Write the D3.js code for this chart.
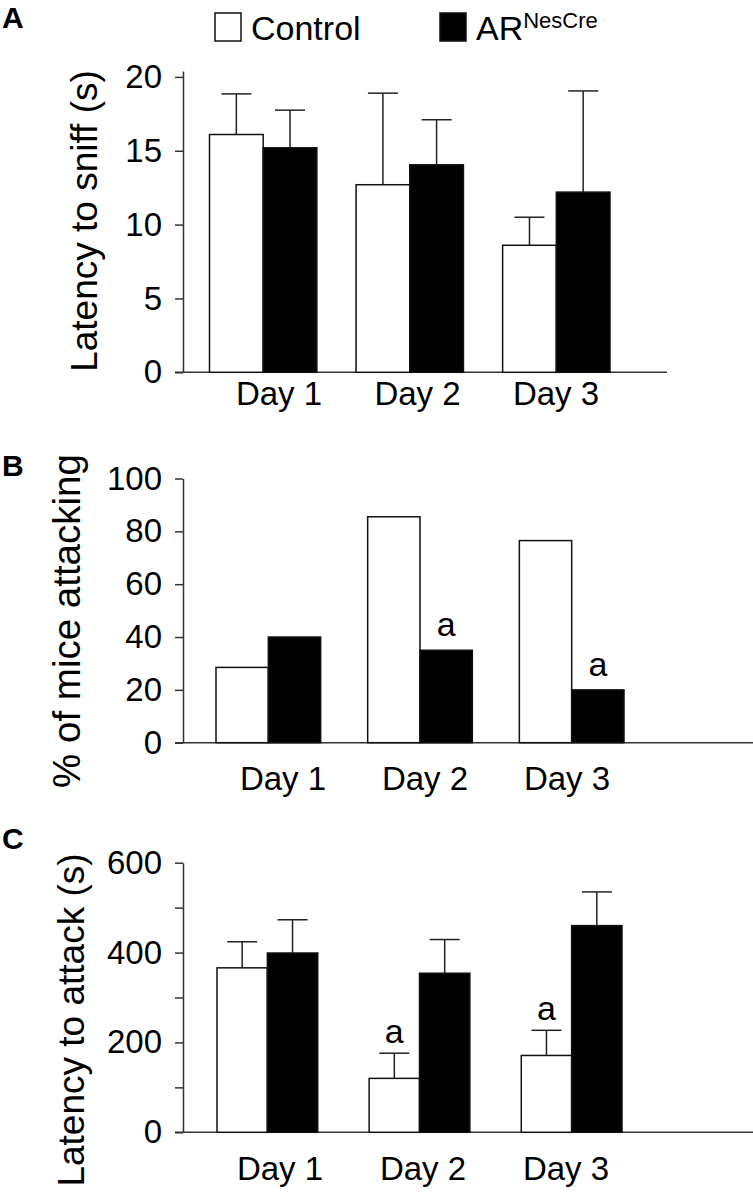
<!DOCTYPE html>
<html>
<head>
<meta charset="utf-8">
<script src="https://cdn.jsdelivr.net/npm/d3@7"></script>
<style>
  html, body { margin: 0; padding: 0; background: #fff; }
  svg { display: block; }
  text { font-family: "Liberation Sans", Arial, sans-serif; fill: #000; }
</style>
</head>
<body>
<svg id="chart" width="753" height="1199"></svg>
<script>
// ---------------- DATA ----------------
const days = ["Day 1", "Day 2", "Day 3"];
const groups = ["Control", "AR"];

// Panel A: latency to sniff (s)
const sniffControl = [16.1, 12.7, 8.6];
const sniffControlErr = [2.75, 6.2, 1.9];
const sniffAR = [15.2, 14.05, 12.2];
const sniffARErr = [2.55, 3.05, 6.85];
const sniffTicks = [0, 5, 10, 15, 20];

// Panel B: % of mice attacking
const pctControl = [28.5, 85.5, 76.5];
const pctAR = [40, 35, 20];
const pctARSig = ["", "a", "a"];
const pctTicks = [0, 20, 40, 60, 80, 100];

// Panel C: latency to attack (s)
const attackControl = [366, 120, 171];
const attackControlErr = [58, 56, 56];
const attackAR = [399, 354, 460];
const attackARErr = [74, 75, 75];
const attackControlSig = ["", "a", "a"];
const attackTicks = [0, 100, 200, 300, 400, 500, 600];
const attackTickLabels = ["0", "", "200", "", "400", "", "600"];

// ---------------- DRAW ----------------
const svg = d3.select("#chart");
const AXIS = "#333";

function drawPanel(cfg) {
  const g = svg.append("g");
  const y = d3.scaleLinear().domain(cfg.domain).range([cfg.yBase, cfg.yTop]);
  const x0 = d3.scaleBand().domain(days).range(cfg.xRange).paddingInner(cfg.pad);
  const x1 = d3.scaleBand().domain(groups).range([0, x0.bandwidth()]);
  const xl = d3.scalePoint().domain(days).range(cfg.labelRange);

  // y axis
  const ax = g.append("g")
    .attr("transform", `translate(${cfg.axisX},0)`)
    .call(d3.axisLeft(y).tickValues(cfg.ticks).tickSize(8).tickSizeOuter(0).tickPadding(13)
      .tickFormat((d, i) => cfg.tickLabels ? cfg.tickLabels[i] : d));
  ax.select(".domain").attr("stroke", AXIS).attr("stroke-width", 1.5);
  ax.selectAll(".tick line").attr("stroke", AXIS).attr("stroke-width", 1.5);
  ax.selectAll(".tick text").style("font-size", "33px").attr("fill", "#000")
    .style("font-family", '"Liberation Sans", Arial, sans-serif');

  // x baseline
  g.append("line")
    .attr("x1", cfg.axisX - 8).attr("x2", cfg.xEnd)
    .attr("y1", y(0)).attr("y2", y(0))
    .attr("stroke", AXIS).attr("stroke-width", 1.5);

  const rows = [];
  days.forEach((d, i) => {
    rows.push({ day: d, grp: "Control", v: cfg.ctrl[i], e: cfg.ctrlErr ? cfg.ctrlErr[i] : null, s: cfg.ctrlSig ? cfg.ctrlSig[i] : "" });
    rows.push({ day: d, grp: "AR", v: cfg.ar[i], e: cfg.arErr ? cfg.arErr[i] : null, s: cfg.arSig ? cfg.arSig[i] : "" });
  });

  // error bars (upper whisker only)
  rows.filter(r => r.e != null).forEach(r => {
    const cx = x0(r.day) + x1(r.grp) + x1.bandwidth() / 2;
    g.append("line").attr("x1", cx).attr("x2", cx)
      .attr("y1", y(r.v)).attr("y2", y(r.v + r.e))
      .attr("stroke", "#222").attr("stroke-width", 1.5);
    g.append("line").attr("x1", cx - cfg.cap / 2).attr("x2", cx + cfg.cap / 2)
      .attr("y1", y(r.v + r.e)).attr("y2", y(r.v + r.e))
      .attr("stroke", "#222").attr("stroke-width", 1.5);
  });

  g.selectAll("rect.bar").data(rows).join("rect")
    .attr("class", "bar")
    .attr("x", r => x0(r.day) + x1(r.grp))
    .attr("width", x1.bandwidth())
    .attr("y", r => y(r.v))
    .attr("height", r => y(0) - y(r.v))
    .attr("fill", r => r.grp === "Control" ? "#fff" : "#000")
    .attr("stroke", "#111").attr("stroke-width", 1.5);

  // significance letters
  rows.filter(r => r.s).forEach(r => {
    const cx = x0(r.day) + x1(r.grp) + x1.bandwidth() / 2;
    const top = r.e != null ? y(r.v + r.e) : y(r.v);
    g.append("text").attr("x", cx).attr("y", top - cfg.sigGap)
      .attr("text-anchor", "middle").style("font-size", "34px").text(r.s);
  });

  // day labels
  g.selectAll("text.day").data(days).join("text")
    .attr("class", "day")
    .attr("x", d => xl(d)).attr("y", cfg.dayY)
    .attr("text-anchor", "middle").style("font-size", "33px").text(d => d);

  // y title
  g.append("text")
    .attr("transform", `translate(${cfg.titleX},${cfg.titleY}) rotate(-90)`)
    .attr("text-anchor", "middle").style("font-size", cfg.titleSize + "px").text(cfg.title);

  // panel letter
  g.append("text").attr("x", cfg.letterX).attr("y", cfg.letterY)
    .style("font-size", "30px").style("font-weight", "bold").text(cfg.letter);
}

drawPanel({
  letter: "A", letterX: 2, letterY: 28,
  domain: [0, 20.4], yBase: 372.3, yTop: 71, ticks: sniffTicks,
  axisX: 183, xRange: [209.5, 610], pad: 0.2675, xEnd: 667,
  labelRange: [279, 556], dayY: 405,
  ctrl: sniffControl, ctrlErr: sniffControlErr, ar: sniffAR, arErr: sniffARErr,
  cap: 30, sigGap: 10,
  title: "Latency to sniff (s)", titleX: 97, titleY: 221, titleSize: 37
});

drawPanel({
  letter: "B", letterX: 2, letterY: 476,
  domain: [0, 100], yBase: 742.7, yTop: 478.5, ticks: pctTicks,
  axisX: 183, xRange: [216, 624], pad: 0.31, xEnd: 753,
  labelRange: [283, 567], dayY: 790,
  ctrl: pctControl, ar: pctAR, arSig: pctARSig,
  cap: 30, sigGap: 14,
  title: "% of mice attacking", titleX: 80, titleY: 621, titleSize: 38.5
});

drawPanel({
  letter: "C", letterX: 2, letterY: 849,
  domain: [0, 600], yBase: 1132.3, yTop: 862.7, ticks: attackTicks, tickLabels: attackTickLabels,
  axisX: 183, xRange: [217, 622], pad: 0.338, xEnd: 753,
  labelRange: [280, 566], dayY: 1180,
  ctrl: attackControl, ctrlErr: attackControlErr, ctrlSig: attackControlSig, ar: attackAR, arErr: attackARErr,
  cap: 30, sigGap: 10,
  title: "Latency to attack (s)", titleX: 84, titleY: 1020, titleSize: 37
});

// legend
const legend = svg.append("g");
const legendItems = [
  { grp: "Control", x: 215, label: "Control", sup: "" },
  { grp: "AR", x: 440, label: "AR", sup: "NesCre" }
];
legendItems.forEach(it => {
  legend.append("rect").attr("x", it.x).attr("y", 13).attr("width", 26).attr("height", 28)
    .attr("fill", it.grp === "Control" ? "#fff" : "#000").attr("stroke", "#111").attr("stroke-width", 1.5);
  const t = legend.append("text").attr("x", it.x + 36).attr("y", 40).style("font-size", "34px");
  t.append("tspan").text(it.label);
  if (it.sup) t.append("tspan").attr("dy", -12).style("font-size", "22px").text(it.sup);
});
</script>
</body>
</html>
